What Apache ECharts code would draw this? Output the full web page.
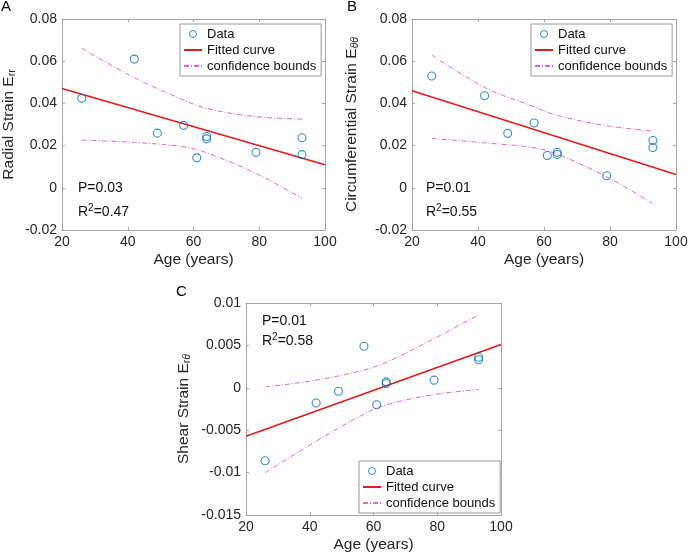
<!DOCTYPE html>
<html>
<head>
<meta charset="utf-8">
<script src="https://cdn.jsdelivr.net/npm/echarts@6/dist/echarts.min.js"></script>
<style>html,body{margin:0;padding:0;background:#fff}#c{width:688px;height:555px}</style>
</head>
<body>
<div id="c"></div>
<script>
// ---- data ----
const ageA = [26, 42, 49, 57, 61, 64, 64, 79, 93, 93];
const radialStrain = [0.0424, 0.0610, 0.0259, 0.0296, 0.0142, 0.0243, 0.0232, 0.0168, 0.0237, 0.0157];
const ageB = [26, 42, 49, 57, 61, 64, 64, 79, 93, 93];
const circStrain = [0.0530, 0.0436, 0.0258, 0.0307, 0.0153, 0.0168, 0.0158, 0.0057, 0.0224, 0.0191];
const ageC = [26, 42, 49, 57, 61, 64, 64, 79, 93, 93];
const shearStrain = [-0.0086, -0.0018, -0.0004, 0.0049, -0.0020, 0.0007, 0.0005, 0.0009, 0.0036, 0.0033];

const fitAge = [20, 100];
const fitA = [0.0471, 0.0109];
const fitB = [0.0460, 0.0063];
const fitC = [-0.0057, 0.0051];

const bandAge = [26, 42, 57, 64, 79, 93];
const upperA = [0.0661, 0.0522, 0.0416, 0.0376, 0.0337, 0.0326];
const lowerA = [0.0226, 0.0215, 0.0194, 0.0166, 0.0068, -0.0050];
const upperB = [0.0629, 0.0476, 0.0384, 0.0343, 0.0294, 0.0269];
const lowerB = [0.0234, 0.0213, 0.0190, 0.0160, 0.0052, -0.0074];
const upperC = [0.0001, 0.0009, 0.0021, 0.0030, 0.0058, 0.0086];
const lowerC = [-0.0100, -0.0063, -0.0031, -0.0020, -0.0008, -0.0002];

const xTicks = {min: 20, max: 100, interval: 20};
const yTicksAB = {min: -0.02, max: 0.08, interval: 0.02};
const yTicksC = {min: -0.015, max: 0.01, interval: 0.005};

const legendNames = ['Data', 'Fitted curve', 'confidence bounds'];
const statsA = ['P=0.03', '0.47'];
const statsB = ['P=0.01', '0.55'];
const statsC = ['P=0.01', '0.58'];

// ---- styling / layout ----
const FONT = '"Liberation Sans", Arial, Helvetica, sans-serif';
const AX = '#a6a6a6';
const TXT = '#262626';
const panels = [
  {grid: {left: 62, top: 19, width: 263, height: 211}, ages: ageA, vals: radialStrain, fit: fitA, up: upperA, lo: lowerA, y: yTicksAB,
   yname: '{n|Radial Strain E}{s|rr}', ygap: 44, legend: {left: 180, top: 24}, stats: statsA, statPos: [78, 188, 212], letter: ['A', 1, 7]},
  {grid: {left: 412, top: 19, width: 264, height: 211}, ages: ageB, vals: circStrain, fit: fitB, up: upperB, lo: lowerB, y: yTicksAB,
   yname: '{n|Circumferential Strain E}{si|θθ}', ygap: 51, legend: {left: 531, top: 24}, stats: statsB, statPos: [426, 188, 212], letter: ['B', 347, 7]},
  {grid: {left: 246, top: 303, width: 255, height: 212}, ages: ageC, vals: shearStrain, fit: fitC, up: upperC, lo: lowerC, y: yTicksC,
   yname: '{n|Shear Strain E}{s|r}{si|θ}', ygap: 53, legend: {left: 359, top: 461}, stats: statsC, statPos: [262, 321, 341], letter: ['C', 176, 292]}
];

const fmt = v => String(+v.toFixed(4));
const hideSym = {color: 'rgba(0,0,0,0)', borderColor: 'rgba(0,0,0,0)', borderWidth: 0, opacity: 0};
const legendData = [
  {name: legendNames[0], itemStyle: {color: 'rgba(0,0,0,0)', borderColor: '#0072BD', borderWidth: 1}},
  {name: legendNames[1], itemStyle: hideSym},
  {name: legendNames[2], itemStyle: hideSym}
];
const grid = [], xAxis = [], yAxis = [], series = [], legend = [], graphic = [];
panels.forEach((p, i) => {
  grid.push(Object.assign({outerBoundsMode: 'none', containLabel: false}, p.grid));
  const line = {show: true, onZero: false, lineStyle: {color: AX, width: 1}};
  const tick = {show: true, inside: true, length: 3, lineStyle: {color: AX, width: 1}};
  xAxis.push({type: 'value', gridIndex: i, position: 'bottom', min: xTicks.min, max: xTicks.max, interval: xTicks.interval,
    axisLine: line, axisTick: tick, splitLine: {show: false},
    axisLabel: {color: TXT, fontSize: 14, margin: 5, fontFamily: FONT},
    name: 'Age (years)', nameLocation: 'middle', nameGap: 22,
    nameTextStyle: {color: TXT, fontSize: 15.5, fontFamily: FONT}});
  xAxis.push({type: 'value', gridIndex: i, position: 'top', min: xTicks.min, max: xTicks.max, interval: xTicks.interval,
    axisLine: line, axisTick: tick, splitLine: {show: false}, axisLabel: {show: false}});
  yAxis.push({type: 'value', gridIndex: i, position: 'left', min: p.y.min, max: p.y.max, interval: p.y.interval,
    axisLine: line, axisTick: tick, splitLine: {show: false},
    axisLabel: {color: TXT, fontSize: 14, margin: 5, fontFamily: FONT, formatter: fmt},
    name: p.yname, nameLocation: 'middle', nameGap: p.ygap,
    nameTextStyle: {color: TXT, fontFamily: FONT, rich: {
      n: {fontSize: 15.5, lineHeight: 18, color: TXT, fontFamily: FONT, verticalAlign: 'middle'},
      s: {fontSize: 10.5, lineHeight: 10, color: TXT, fontFamily: FONT, verticalAlign: 'bottom'},
      si: {fontSize: 10.5, lineHeight: 10, color: TXT, fontFamily: FONT, fontStyle: 'italic', verticalAlign: 'bottom'}
    }}});
  yAxis.push({type: 'value', gridIndex: i, position: 'right', min: p.y.min, max: p.y.max, interval: p.y.interval,
    axisLine: line, axisTick: tick, splitLine: {show: false}, axisLabel: {show: false}});

  const xi = 2 * i, yi = 2 * i;
  series.push({type: 'line', name: 'confidence bounds', xAxisIndex: xi, yAxisIndex: yi, symbol: 'none', smooth: 0.35,
    lineStyle: {color: '#e066e0', width: 1, type: [5, 2, 1, 2]}, itemStyle: {color: '#e066e0'}, z: 2,
    data: bandAge.map((a, k) => [a, p.up[k]])});
  series.push({type: 'line', name: 'confidence bounds', xAxisIndex: xi, yAxisIndex: yi, symbol: 'none', smooth: 0.35,
    lineStyle: {color: '#e066e0', width: 1, type: [5, 2, 1, 2]}, itemStyle: {color: '#e066e0'}, z: 2,
    data: bandAge.map((a, k) => [a, p.lo[k]])});
  series.push({type: 'line', name: 'Fitted curve', xAxisIndex: xi, yAxisIndex: yi, symbol: 'none',
    lineStyle: {color: '#e8191b', width: 1.6}, itemStyle: {color: '#e8191b'}, z: 3,
    data: fitAge.map((a, k) => [a, p.fit[k]])});
  series.push({type: 'scatter', name: 'Data', xAxisIndex: xi, yAxisIndex: yi, symbol: 'circle', symbolSize: 8,
    itemStyle: {color: 'rgba(0,0,0,0)', borderColor: '#0072BD', borderWidth: 1.1}, z: 4,
    data: p.ages.map((a, k) => [a, p.vals[k]])});

  legend.push({orient: 'vertical', left: p.legend.left, top: p.legend.top, data: legendData,
    padding: [3, 5, 3, 3], itemWidth: 18, itemHeight: 7, itemGap: 2, selectedMode: false,
    borderColor: '#999', borderWidth: 1, borderRadius: 0, backgroundColor: '#fff',
    textStyle: {fontSize: 13, color: '#111', fontFamily: FONT, lineHeight: 14}});

  graphic.push({type: 'text', x: p.statPos[0], y: p.statPos[1], z: 10,
    style: {text: p.stats[0], font: '14px ' + FONT, fill: '#111', verticalAlign: 'middle'}});
  graphic.push({type: 'text', x: p.statPos[0], y: p.statPos[2], z: 10,
    style: {text: '{t|R}{u|2}{t|=' + p.stats[1] + '}', verticalAlign: 'middle', fill: '#111',
      rich: {t: {fontSize: 14, lineHeight: 18, fontFamily: FONT, fill: '#111', verticalAlign: 'middle'},
             u: {fontSize: 10, lineHeight: 10, fontFamily: FONT, fill: '#111', verticalAlign: 'top'}}}});
  graphic.push({type: 'text', x: p.letter[1], y: p.letter[2], z: 10,
    style: {text: p.letter[0], font: '15px ' + FONT, fill: '#000', verticalAlign: 'middle'}});
});

const chart = echarts.init(document.getElementById('c'), null, {renderer: 'canvas'});
chart.setOption({
  animation: false,
  backgroundColor: '#fff',
  textStyle: {fontFamily: FONT},
  grid, xAxis, yAxis, series, legend, graphic
});
</script>
</body>
</html>
